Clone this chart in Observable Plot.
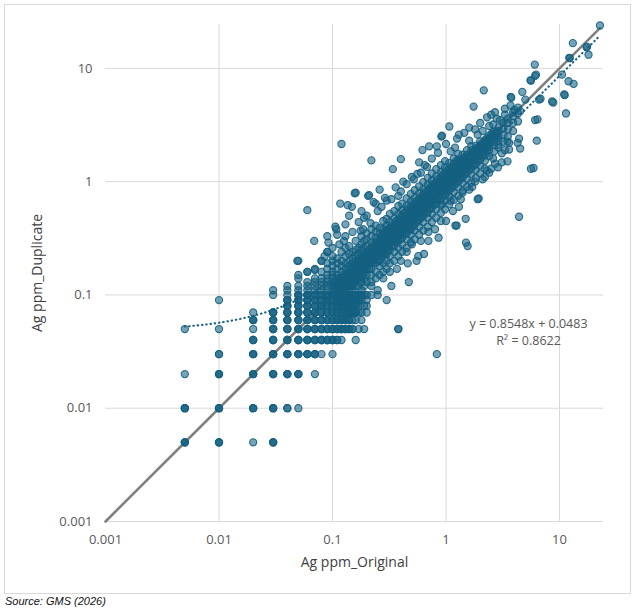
<!DOCTYPE html>
<html><head><meta charset="utf-8">
<script src="https://cdn.jsdelivr.net/npm/d3@7"></script>
<script src="https://cdn.jsdelivr.net/npm/@observablehq/plot@0.6"></script>
<style>
body{margin:0;background:#fff;}
#wrap{position:relative;width:637px;height:613px;}
#frame{position:absolute;left:4px;top:4px;width:627px;height:590px;border:1px solid #d9d9d9;box-sizing:border-box;}
#chart{position:absolute;left:0;top:0;}
#src{position:absolute;left:5px;top:595px;font:italic 11px "Liberation Sans",Arial,sans-serif;color:#111;}
</style></head><body>
<div id="wrap"><div id="frame"></div><div id="chart"></div><div id="src">Source: GMS (2026)</div></div>
<script>
// ---- data ----
const xTicks = [0.001, 0.01, 0.1, 1, 10];
const yTicks = [0.001, 0.01, 0.1, 1, 10];
const xGridTicks = [0.01, 0.1, 1, 10];
const axisDomain = [0.001, 24.4];
const xTitle = "Ag ppm_Original";
const yTitle = "Ag ppm_Duplicate";
const slope = 0.8548, intercept = 0.0483, r2 = 0.8622;
const trendRange = [0.005, 22.7];
const oneToOneRange = [0.001, 22.7];

// low-grade grid: [duplicate value, original values, number of samples on that spot]
const lowGrid = [
  [0.005, [0.005, 0.01, 0.03], 3],
  [0.005, [0.02], 1],
  [0.01, [0.005, 0.01, 0.02, 0.03], 3],
  [0.01, [0.04], 2],
  [0.01, [0.05], 1],
  [0.02, [0.01, 0.02, 0.03, 0.04, 0.05], 3],
  [0.02, [0.005, 0.07], 1],
  [0.03, [0.02, 0.03, 0.04, 0.05, 0.06, 0.07], 3],
  [0.03, [0.01], 2],
  [0.03, [0.08, 0.1], 1],
  [0.04, [0.02, 0.03, 0.04, 0.05, 0.06, 0.07, 0.08, 0.09, 0.1], 3],
  [0.04, [0.11], 2],
  [0.04, [0.12, 0.16], 1],
  [0.05, [0.03, 0.04, 0.05, 0.06, 0.07, 0.08, 0.09, 0.1, 0.11, 0.12, 0.13], 3],
  [0.05, [0.14, 0.15], 2],
  [0.05, [0.005, 0.01, 0.02, 0.17, 0.19, 0.38], 1],
  [0.06, [0.02, 0.03, 0.04, 0.05, 0.06, 0.07, 0.08, 0.09, 0.1, 0.11, 0.12, 0.13, 0.14], 3],
  [0.06, [0.15, 0.16, 0.18], 1],
  [0.07, [0.03, 0.04, 0.05, 0.06, 0.07, 0.08, 0.09, 0.1, 0.11, 0.12, 0.13, 0.14, 0.15, 0.16], 3],
  [0.07, [0.02, 0.17, 0.18, 0.2], 1],
  [0.08, [0.04, 0.05, 0.06, 0.07, 0.08, 0.09, 0.1, 0.11, 0.12, 0.13, 0.14, 0.15, 0.16], 3],
  [0.08, [0.17, 0.19, 0.2], 1],
  [0.09, [0.04, 0.05, 0.06, 0.07, 0.08, 0.09, 0.1, 0.11, 0.12, 0.13, 0.14, 0.15, 0.16, 0.17], 3],
  [0.09, [0.01, 0.18, 0.2], 1],
  [0.1, [0.05, 0.06, 0.07, 0.08, 0.09, 0.1, 0.11, 0.12, 0.13, 0.14, 0.15, 0.16, 0.17, 0.18], 3],
  [0.1, [0.03, 0.04, 0.2, 0.22, 0.25], 1]
];

// main cloud: [original value, duplicate values]
const band = [
  [0.05, [0.11, 0.12, 0.14, 0.15]],
  [0.06, [0.11, 0.12, 0.13, 0.16]],
  [0.07, [0.11, 0.12, 0.13, 0.14, 0.17]],
  [0.08, [0.11, 0.12, 0.13, 0.14, 0.16, 0.2]],
  [0.09, [0.11, 0.12, 0.13, 0.14, 0.15, 0.17, 0.19, 0.24]],
  [0.1, [0.11, 0.12, 0.13, 0.14, 0.15, 0.16, 0.18, 0.2, 0.22]],
  [0.11, [0.11, 0.12, 0.13, 0.14, 0.15, 0.17, 0.19, 0.21]],
  [0.12, [0.11, 0.12, 0.13, 0.14, 0.16, 0.18, 0.2, 0.24]],
  [0.13, [0.11, 0.12, 0.13, 0.14, 0.15, 0.17, 0.19, 0.22, 0.26]],
  [0.14, [0.11, 0.12, 0.13, 0.14, 0.15, 0.16, 0.18, 0.2, 0.23, 0.27]],
  [0.15, [0.11, 0.12, 0.13, 0.14, 0.15, 0.16, 0.17, 0.19, 0.21, 0.24]],
  [0.16, [0.12, 0.13, 0.14, 0.15, 0.16, 0.17, 0.18, 0.2, 0.22, 0.25, 0.3]],
  [0.17, [0.12, 0.14, 0.15, 0.16, 0.17, 0.18, 0.19, 0.21, 0.23, 0.26]],
  [0.18, [0.11, 0.13, 0.15, 0.16, 0.17, 0.18, 0.19, 0.2, 0.22, 0.25, 0.28, 0.33]],
  [0.19, [0.12, 0.14, 0.16, 0.17, 0.18, 0.19, 0.2, 0.21, 0.23, 0.26, 0.3]],
  [0.2, [0.13, 0.15, 0.17, 0.18, 0.19, 0.2, 0.21, 0.22, 0.24, 0.27, 0.31, 0.35]],
  [0.22, [0.13, 0.15, 0.17, 0.19, 0.2, 0.21, 0.22, 0.23, 0.24, 0.26, 0.29, 0.33, 0.38]],
  [0.24, [0.14, 0.16, 0.19, 0.21, 0.22, 0.23, 0.24, 0.25, 0.27, 0.29, 0.32, 0.36, 0.41]],
  [0.26, [0.15, 0.18, 0.2, 0.22, 0.24, 0.25, 0.26, 0.27, 0.29, 0.31, 0.35, 0.39]],
  [0.28, [0.16, 0.19, 0.22, 0.24, 0.26, 0.27, 0.28, 0.3, 0.32, 0.34, 0.38, 0.45]],
  [0.3, [0.17, 0.2, 0.23, 0.26, 0.28, 0.29, 0.3, 0.32, 0.34, 0.37, 0.41, 0.47]],
  [0.32, [0.19, 0.22, 0.25, 0.28, 0.3, 0.31, 0.32, 0.34, 0.36, 0.39, 0.44, 0.52]],
  [0.35, [0.2, 0.24, 0.27, 0.3, 0.32, 0.34, 0.35, 0.37, 0.39, 0.42, 0.47, 0.55]],
  [0.38, [0.22, 0.26, 0.3, 0.33, 0.35, 0.37, 0.38, 0.4, 0.43, 0.46, 0.52, 0.61]],
  [0.41, [0.24, 0.28, 0.32, 0.35, 0.38, 0.4, 0.41, 0.43, 0.46, 0.5, 0.56, 0.64]],
  [0.45, [0.26, 0.31, 0.35, 0.39, 0.42, 0.44, 0.45, 0.47, 0.5, 0.55, 0.61, 0.71]],
  [0.49, [0.29, 0.34, 0.38, 0.42, 0.45, 0.48, 0.49, 0.52, 0.55, 0.6, 0.67, 0.78]],
  [0.53, [0.31, 0.37, 0.42, 0.46, 0.49, 0.52, 0.53, 0.56, 0.6, 0.65, 0.72, 0.84]],
  [0.58, [0.34, 0.4, 0.46, 0.5, 0.54, 0.56, 0.58, 0.61, 0.65, 0.71, 0.79, 0.91]],
  [0.63, [0.37, 0.44, 0.5, 0.55, 0.59, 0.61, 0.63, 0.66, 0.71, 0.77, 0.86, 0.99]],
  [0.69, [0.4, 0.48, 0.54, 0.6, 0.64, 0.67, 0.69, 0.73, 0.78, 0.84, 0.94, 1.08]],
  [0.75, [0.44, 0.52, 0.59, 0.65, 0.7, 0.73, 0.75, 0.79, 0.85, 0.92, 1.02, 1.18]],
  [0.82, [0.48, 0.57, 0.64, 0.71, 0.76, 0.8, 0.82, 0.86, 0.93, 1.0, 1.12, 1.29]],
  [0.9, [0.53, 0.62, 0.7, 0.78, 0.83, 0.87, 0.9, 0.95, 1.02, 1.1, 1.22, 1.4]],
  [0.98, [0.57, 0.68, 0.77, 0.85, 0.91, 0.95, 0.98, 1.03, 1.1, 1.2, 1.33, 1.52]],
  [1.07, [0.63, 0.74, 0.84, 0.93, 0.99, 1.04, 1.07, 1.13, 1.21, 1.31, 1.46]],
  [1.17, [0.69, 0.81, 0.92, 1.01, 1.08, 1.13, 1.17, 1.23, 1.32, 1.43, 1.6]],
  [1.28, [0.75, 0.89, 1.0, 1.1, 1.18, 1.24, 1.28, 1.35, 1.45, 1.57, 1.76]],
  [1.4, [0.83, 0.97, 1.1, 1.21, 1.3, 1.36, 1.4, 1.48, 1.58, 1.73]],
  [1.53, [0.9, 1.06, 1.2, 1.32, 1.42, 1.48, 1.53, 1.61, 1.73, 1.9]],
  [1.67, [0.98, 1.16, 1.31, 1.44, 1.55, 1.62, 1.67, 1.76, 1.89, 2.06]],
  [1.83, [1.08, 1.27, 1.43, 1.58, 1.7, 1.77, 1.83, 1.93, 2.08]],
  [2.0, [1.18, 1.39, 1.57, 1.73, 1.85, 1.94, 2.0, 2.1, 2.27]],
  [2.2, [1.3, 1.53, 1.73, 1.9, 2.04, 2.13, 2.2, 2.33]],
  [2.4, [1.68, 1.89, 2.08, 2.22, 2.33, 2.4, 2.56]],
  [2.65, [1.85, 2.1, 2.3, 2.45, 2.6, 2.76]],
  [2.9, [2.0, 2.3, 2.55, 2.8, 3.0]],
  [3.2, [2.25, 2.6, 2.95, 3.3]],
  [3.5, [2.5, 2.9, 3.3, 3.6]],
  [3.9, [2.8, 3.3, 3.8, 4.1]],
  [4.3, [3.4, 4.0, 4.5]]
];

// densest core of the cloud, between the columns above: [original value, duplicate values]
const core = [
  [0.105, [0.1, 0.11, 0.12, 0.13]],
  [0.115, [0.1, 0.11, 0.12, 0.13, 0.14]],
  [0.125, [0.11, 0.12, 0.13, 0.14, 0.15]],
  [0.135, [0.12, 0.13, 0.14, 0.15, 0.16]],
  [0.145, [0.12, 0.13, 0.14, 0.15, 0.16, 0.17]],
  [0.155, [0.13, 0.14, 0.15, 0.16, 0.17, 0.18]],
  [0.165, [0.14, 0.15, 0.16, 0.17, 0.18, 0.19]],
  [0.175, [0.14, 0.16, 0.17, 0.18, 0.19, 0.2]],
  [0.185, [0.15, 0.17, 0.18, 0.19, 0.2, 0.21]],
  [0.21, [0.17, 0.19, 0.2, 0.21, 0.22, 0.23, 0.25]],
  [0.23, [0.19, 0.21, 0.22, 0.23, 0.24, 0.26, 0.28]],
  [0.25, [0.2, 0.22, 0.24, 0.25, 0.26, 0.28, 0.3]],
  [0.27, [0.22, 0.24, 0.26, 0.27, 0.28, 0.3, 0.33]],
  [0.29, [0.23, 0.26, 0.28, 0.29, 0.31, 0.33, 0.36]],
  [0.31, [0.25, 0.28, 0.3, 0.31, 0.33, 0.35, 0.38]],
  [0.335, [0.27, 0.3, 0.32, 0.335, 0.35, 0.38, 0.41]],
  [0.365, [0.29, 0.32, 0.35, 0.365, 0.38, 0.41, 0.45]],
  [0.395, [0.31, 0.35, 0.38, 0.395, 0.41, 0.44, 0.48]],
  [0.43, [0.34, 0.38, 0.41, 0.43, 0.45, 0.48, 0.53]],
  [0.47, [0.37, 0.41, 0.45, 0.47, 0.49, 0.53, 0.58]],
  [0.51, [0.4, 0.45, 0.49, 0.51, 0.53, 0.57, 0.63]],
  [0.555, [0.44, 0.49, 0.53, 0.555, 0.58, 0.62, 0.68]],
  [0.605, [0.48, 0.53, 0.58, 0.605, 0.63, 0.68, 0.74]],
  [0.66, [0.52, 0.58, 0.63, 0.66, 0.69, 0.74, 0.81]],
  [0.72, [0.57, 0.63, 0.69, 0.72, 0.75, 0.81, 0.88]],
  [0.785, [0.62, 0.69, 0.75, 0.785, 0.82, 0.88, 0.96]],
  [0.86, [0.68, 0.76, 0.82, 0.86, 0.9, 0.96, 1.05]],
  [0.94, [0.74, 0.83, 0.9, 0.94, 0.98, 1.05, 1.15]],
  [1.02, [0.8, 0.9, 0.97, 1.02, 1.07, 1.14, 1.25]],
  [1.12, [0.88, 0.98, 1.07, 1.12, 1.17, 1.25, 1.37]],
  [1.22, [0.96, 1.07, 1.16, 1.22, 1.28, 1.37, 1.5]],
  [1.34, [1.05, 1.18, 1.28, 1.34, 1.4, 1.5]],
  [1.46, [1.15, 1.28, 1.39, 1.46, 1.53, 1.64]],
  [1.6, [1.26, 1.41, 1.52, 1.6, 1.68]],
  [1.75, [1.38, 1.54, 1.67, 1.75, 1.84]],
  [1.92, [1.51, 1.69, 1.83, 1.92, 2.01]],
  [2.1, [1.66, 1.85, 2.0, 2.1, 2.2]],
  [2.3, [1.81, 2.02, 2.19, 2.3, 2.42]],
  [2.52, [2.22, 2.4, 2.52, 2.65]],
  [2.77, [2.44, 2.64, 2.77]]
];

// scattered samples: [original, duplicate]
const outliers = [
  [0.12, 2.15], [0.06, 0.56], [0.83, 0.03], [0.38, 0.05], [4.4, 0.49], [1.5, 0.29], [1.55, 0.27],
  [2.15, 6.4], [1.75, 4.6], [1.07, 3.07], [0.22, 1.54], [0.4, 1.58], [0.34, 1.29], [5.9, 1.32],
  [6.3, 2.3], [8.6, 5.1], [11.4, 4.0], [11, 5.9], [10.5, 8.8], [12, 7.7], [13.3, 7.3], [13.1, 16.7],
  [12.2, 12.4], [17.3, 15.4], [18, 13.2], [22.7, 23.9], [6.05, 10.8], [6.2, 8.8], [5.55, 7.85],
  [6.8, 5.4], [6.4, 3.55], [3.72, 5.6], [4.7, 6.2], [3.48, 2.26], [4.27, 2.2], [3.48, 1.51],
  [2.87, 1.34], [1.94, 0.71], [1.49, 0.47], [1.21, 0.41], [0.157, 0.79], [0.206, 0.75],
  [0.117, 0.64], [0.136, 0.62], [0.148, 0.6], [0.069, 0.3], [0.049, 0.2], [0.106, 0.4], [0.13, 0.42],
  [0.26, 0.85], [0.23, 0.66], [0.36, 0.89], [0.42, 1.0], [0.56, 1.17], [0.58, 1.48], [0.62, 1.9],
  [0.71, 2.05], [0.83, 2.05], [0.91, 2.5], [1.0, 2.15], [1.24, 0.41], [0.86, 0.32], [0.57, 0.22],
  [0.46, 0.19], [0.37, 0.17], [1.9, 0.7], [1.3, 0.6], [0.64, 0.23], [0.47, 0.13], [0.3, 0.09],
  [0.55, 0.2], [1.1, 0.68], [0.92, 0.63], [0.18, 0.55], [0.19, 0.48], [0.186, 0.38], [0.177, 0.37],
  [0.108, 0.38], [0.092, 0.29], [0.09, 0.24], [0.08, 0.2], [0.07, 0.166], [0.06, 0.16], [0.05, 0.2],
  [0.03, 0.11], [0.04, 0.11], [0.04, 0.12], [0.24, 0.64], [0.3, 0.68], [0.38, 0.75], [0.126, 0.3],
  [0.216, 0.43], [0.16, 0.8], [0.21, 0.76], [3.75, 5.5], [5.0, 5.3], [3.7, 4.7], [2.7, 4.1],
  [2.3, 3.7], [2.5, 3.9], [0.92, 2.55], [4.4, 2.4], [4.5, 1.96], [3.6, 2.2], [3.6, 1.92], [3.1, 1.78],
  [3.1, 1.48], [2.7, 1.44], [5.6, 1.3], [2.3, 1.25], [6.1, 3.5], [6.6, 5.3], [5.6, 7.8], [6.1, 8.6],
  [8.8, 5.0], [11.1, 5.8], [12.3, 12.3], [17.5, 15.5], [4.0, 4.3], [4.5, 4.2], [3.3, 3.9], [3.0, 3.5],
  [2.6, 3.2], [2.1, 2.8], [1.9, 2.6], [1.6, 2.3], [2.2, 1.1], [2.5, 1.3], [1.7, 0.9], [1.35, 0.7],
  [1.45, 2.7], [1.25, 2.4], [0.75, 1.6], [0.5, 1.1], [0.29, 0.72], [0.14, 0.5], [0.11, 0.34],
  [0.7, 0.3], [1.0, 0.45], [0.33, 0.12], [0.25, 0.11], [0.8, 0.38],
  [0.15, 0.36], [0.17, 0.44], [0.2, 0.5], [0.25, 0.55], [0.27, 0.6], [0.33, 0.7], [0.4, 0.82],
  [0.45, 0.95], [0.52, 1.05], [0.6, 1.2], [0.68, 1.35], [0.32, 0.16], [0.4, 0.2], [0.45, 0.24],
  [0.5, 0.28], [0.6, 0.3], [0.7, 0.36], [0.9, 0.45], [1.15, 0.55], [0.28, 0.14], [0.22, 0.12],
  [0.19, 0.1], [0.13, 0.33], [0.09, 0.33], [0.085, 0.22], [0.1, 0.26], [0.115, 0.28],
  [0.85, 1.8], [1.2, 2.0], [1.3, 2.6], [1.6, 3.0], [2.0, 3.3], [2.4, 3.1], [1.8, 2.9], [2.8, 3.6],
  [3.3, 4.4], [1.1, 1.85], [0.65, 1.4], [1.8, 1.0], [2.4, 1.2], [2.6, 1.6], [3.3, 1.9], [2.9, 2.1],
  [1.4, 0.8], [1.6, 0.85], [2.1, 1.05]
];

// ---- build table ----
const samples = [];
for (const [dup, origs, n] of lowGrid) for (const o of origs) for (let i = 0; i < n; i++) samples.push({orig: o, dup});
for (const [o, dups] of band) for (const d of dups) samples.push({orig: o, dup: d});
for (const [o, dups] of core) for (const d of dups) samples.push({orig: o, dup: d});
for (const [o, d] of outliers) samples.push({orig: o, dup: d});

const lt0 = Math.log10(trendRange[0]), lt1 = Math.log10(trendRange[1]);
const trend = d3.range(0, 301).map(i => { const x = 10 ** (lt0 + (lt1 - lt0) * i / 300); return {x, y: slope * x + intercept}; });
const oneToOne = oneToOneRange.map(v => ({x: v, y: v}));

const teal = "#156082";
const chart = Plot.plot({
  width: 637, height: 596,
  marginLeft: 105, marginRight: 34, marginTop: 24, marginBottom: 75,
  style: {fontFamily: "'Open Sans', sans-serif", fontSize: "13px", color: "#595959", background: "transparent", overflow: "visible"},
  x: {type: "log", domain: axisDomain, ticks: xTicks, tickFormat: d => String(d), tickSize: 0, tickPadding: 13, label: null},
  y: {type: "log", domain: axisDomain, ticks: yTicks, tickFormat: d => String(d), tickSize: 0, tickPadding: 13, label: null},
  marks: [
    Plot.ruleX(xGridTicks, {stroke: "#d9d9d9", strokeWidth: 1}),
    Plot.ruleY(yTicks, {stroke: "#d9d9d9", strokeWidth: 1}),
    Plot.line(oneToOne, {x: "x", y: "y", stroke: "#808080", strokeWidth: 2.6}),
    Plot.dot(samples, {x: "orig", y: "dup", r: 3.6, fill: teal, fillOpacity: 0.58, stroke: teal, strokeOpacity: 0.9, strokeWidth: 1.1}),
    Plot.line(trend, {x: "x", y: "y", stroke: teal, strokeWidth: 2.1, strokeDasharray: "0.4,3.9", strokeLinecap: "round"}),
    Plot.text([`y = ${slope}x + ${intercept}`], {text: d => d, frameAnchor: "right", textAnchor: "middle", dx: -75, dy: 51, fill: "#595959", fontSize: 12.5}),
    Plot.text([`R² = ${r2}`], {text: d => d, frameAnchor: "right", textAnchor: "middle", dx: -75, dy: 68, fill: "#595959", fontSize: 12.5}),
    Plot.text([xTitle], {text: d => d, frameAnchor: "bottom", textAnchor: "middle", dy: 45, fill: "#404040", fontSize: 14}),
    Plot.text([yTitle], {text: d => d, frameAnchor: "left", textAnchor: "middle", rotate: -90, dx: -68, fill: "#404040", fontSize: 14})
  ]
});
document.getElementById("chart").append(chart);
</script>
</body></html>
